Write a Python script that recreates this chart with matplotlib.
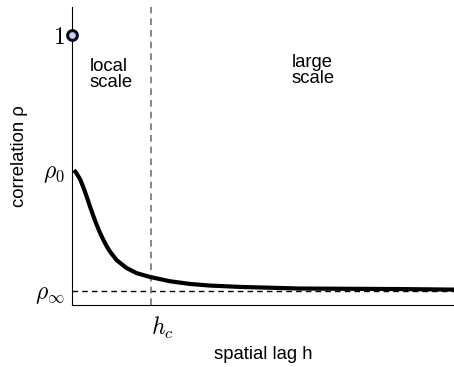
import matplotlib
matplotlib.use("Agg")
import matplotlib.pyplot as plt

plt.rcParams["mathtext.fontset"] = "cm"
plt.rcParams["font.family"] = ["Liberation Sans", "DejaVu Sans"]

# values (h in units of h_c)
rho_inf = 0.05
rho_0 = 0.5
h_c = 1.0
lag = [0.025, 0.051, 0.101, 0.143, 0.186, 0.228, 0.270, 0.313, 0.354, 0.396, 0.439,
       0.481, 0.566, 0.692, 0.819, 0.987, 1.114, 1.241, 1.367, 1.494, 1.747, 2.127,
       2.506, 2.886, 3.519, 4.152, 4.84]
corr = [0.500, 0.491, 0.467, 0.437, 0.402, 0.365, 0.330, 0.297, 0.268, 0.242, 0.218,
        0.198, 0.166, 0.137, 0.118, 0.104, 0.096, 0.088, 0.083, 0.078, 0.072, 0.067,
        0.064, 0.061, 0.060, 0.059, 0.057]
ytick_vals = [rho_inf, rho_0, 1.0]
ytick_labels = [r"$\rho_\infty$", r"$\rho_0$", r"$1$"]

fig = plt.figure(figsize=(4.54, 3.67), dpi=100)
ax = fig.add_axes([0.1586, 0.169, 0.8414, 0.812])

ax.axhline(rho_inf, color="k", ls=(0, (4, 3)), lw=1, zorder=1)
ax.axvline(h_c, color="0.45", ls=(0, (4, 3)), lw=1.2, zorder=1)
ax.plot(lag, corr, color="k", lw=3, solid_capstyle="butt", solid_joinstyle="round", zorder=3)
ax.plot([0], [1.0], marker="o", ms=7, mew=2.2, mec="#050a20", mfc="#c8d4ee",
        clip_on=False, zorder=4)

ax.text(0.228, 0.854, "local\nscale", fontsize=13.3, va="center", ha="left", linespacing=0.95)
ax.text(3.05, 0.869, "large\nscale", fontsize=13.3, va="center", ha="center", linespacing=0.95)

ax.set_xlim(0, 4.84)
ax.set_ylim(0, 1.105)
ax.set_yticks(ytick_vals)
ax.set_yticklabels(ytick_labels, fontsize=17)
ax.set_xticks([h_c])
ax.set_xticklabels([r"$h_c$"], fontsize=17, ha="left")
ax.tick_params(length=0)
ax.tick_params(axis="y", pad=5)
ax.tick_params(axis="x", pad=7)
ax.spines["top"].set_visible(False)
ax.spines["right"].set_visible(False)
ax.set_xlabel("spatial lag h", fontsize=13.3, labelpad=4)
ax.set_ylabel("correlation ρ", fontsize=13.3, labelpad=5)

fig.savefig("out.png", dpi=100)
